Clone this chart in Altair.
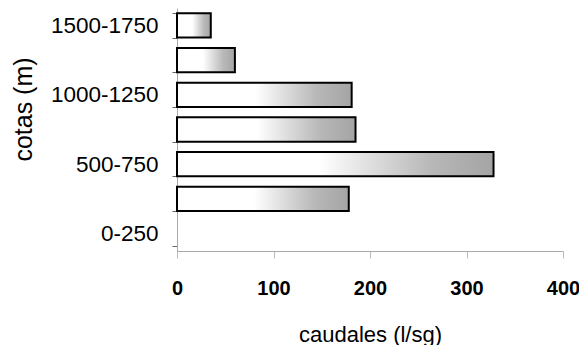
import altair as alt
import pandas as pd

# data
cotas = ["0-250", "250-500", "500-750", "750-1000", "1000-1250", "1250-1500", "1500-1750"]
caudales = [0, 178, 328, 185, 181, 60, 35]
etiquetas = ["0-250", "500-750", "1000-1250", "1500-1750"]
x_ticks = [0, 100, 200, 300, 400]

df = pd.DataFrame({"cota": cotas, "caudal": caudales})
order = cotas[::-1]

label_expr = "indexof(" + str(etiquetas) + ", datum.value) >= 0 ? datum.value : ''"

grad = alt.Gradient(
    gradient="linear",
    stops=[
        alt.GradientStop(color="#ffffff", offset=0),
        alt.GradientStop(color="#ffffff", offset=0.45),
        alt.GradientStop(color="#b8b8b8", offset=0.8),
        alt.GradientStop(color="#a4a4a4", offset=1),
    ],
    x1=0, x2=1, y1=0, y2=0,
)

chart = (
    alt.Chart(df)
    .transform_filter("datum.caudal > 0")
    .mark_bar(color=grad, stroke="black", strokeWidth=2)
    .encode(
        x=alt.X(
            "caudal:Q",
            scale=alt.Scale(domain=[0, 400], nice=False),
            axis=alt.Axis(
                values=x_ticks,
                title="caudales (l/sg)",
                grid=False,
                labelFont="Liberation Sans",
                labelFontSize=20,
                labelFontWeight="bold",
                labelColor="black",
                labelFlush=False,
                labelPadding=20,
                tickSize=7,
                tickColor="#bbbbbb",
                domainColor="#aaaaaa",
                titleFont="Liberation Sans",
                titleFontSize=22,
                titleFontWeight="normal",
                titleColor="black",
                titleY=90,
                titleBaseline="alphabetic",
            ),
        ),
        y=alt.Y(
            "cota:N",
            scale=alt.Scale(domain=order, paddingInner=0.3, paddingOuter=0.15),
            axis=alt.Axis(
                title="cotas (m)",
                labelExpr=label_expr,
                labelOverlap=False,
                labelFont="Liberation Sans",
                labelFontSize=22.5,
                labelColor="black",
                labelPadding=14,
                tickBand="extent",
                tickSize=5,
                tickColor="#666666",
                domainColor="#aaaaaa",
                titleFont="Liberation Sans",
                titleFontSize=25,
                titleFontWeight="normal",
                titleColor="black",
                titleX=-154,
                titleY=101,
                titleAlign="center",
                titleBaseline="middle",
                titleAngle=-90,
            ),
        ),
    )
    .properties(
        width=386,
        height=243,
        padding={"left": 169, "top": 0, "right": 16, "bottom": 94},
        autosize="none",
    )
    .configure_view(stroke=None)
)

chart.save("out.html", embed_options={"renderer": "svg", "actions": False})
